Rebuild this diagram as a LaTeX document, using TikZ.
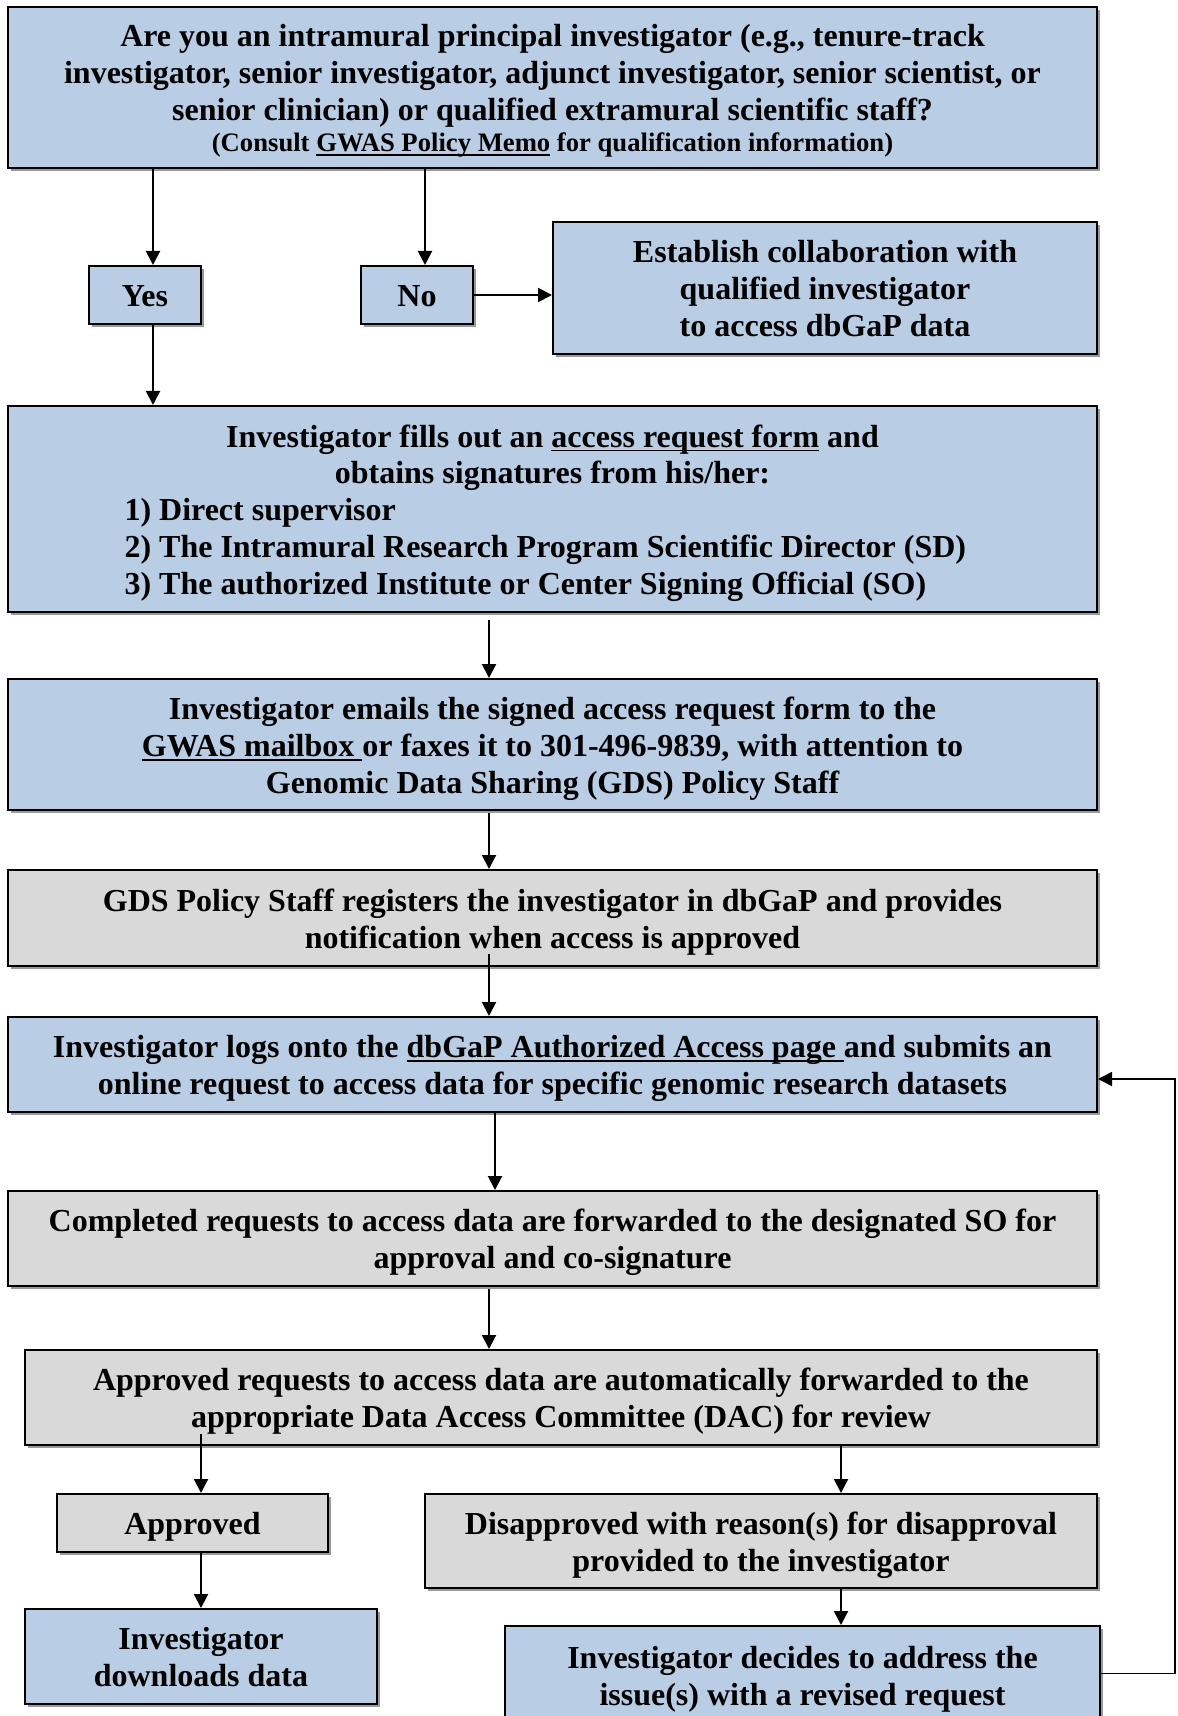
\documentclass[tikz,border=0pt]{standalone}
\usepackage{fontspec}
\setmainfont{Liberation Serif}
\usetikzlibrary{arrows.meta,shadows}
\definecolor{boxblue}{HTML}{B9CDE5}
\definecolor{boxgrey}{HTML}{D9D9D9}
\newcommand{\linkul}[1]{\setbox0\hbox{#1}\rlap{\rule[-2.2pt]{\wd0}{0.9pt}}\box0\relax}
\newcommand{\topstrut}{\rule{0pt}{15.7pt}}
\newcommand{\botstrut}{\rule[-4pt]{0pt}{4pt}}
\begin{document}
\begin{tikzpicture}[
			x=0.5pt, y=-0.5pt,
			>={Triangle[length=7pt,width=7pt]},
			line width=1pt,
			box/.style = {draw, line width=1pt, align=center, inner sep=2pt,
				font=\fontsize{16}{18.4}\selectfont\bfseries,
				drop shadow={shadow xshift=1.6pt, shadow yshift=-1.6pt, fill=black!40, opacity=1}},
			bluebox/.style = {box, fill=boxblue},
			greybox/.style = {box, fill=boxgrey}
		]
		\useasboundingbox (0,0) rectangle (1177,1716);
		\clip (0,0) rectangle (1177,1716);
		\node[bluebox, minimum width=544.5pt, minimum height=80.5pt] (q) at (552.5,87.5)
			{\topstrut Are you an intramural principal investigator (e.g., tenure-track\\
			investigator, senior investigator, adjunct investigator, senior scientist, or\\
			senior clinician) or qualified extramural scientific staff?\\[-2.6pt]
			{\fontsize{13.33}{17}\selectfont (Consult \linkul{GWAS Policy Memo} for qualification information)}\botstrut};
		\node[bluebox, minimum width=56pt, minimum height=29pt] (yes) at (145,295) {\topstrut Yes\botstrut};
		\node[bluebox, minimum width=56pt, minimum height=29pt] (no) at (417,295) {\topstrut No\botstrut};
		\node[bluebox, minimum width=272pt, minimum height=66pt] (est) at (825,288)
			{\topstrut Establish collaboration with\\ qualified investigator\\ to access dbGaP data\botstrut};
		\node[bluebox, minimum width=544.5pt, minimum height=103pt] (fills) at (552.5,509)
			{\topstrut Investigator fills out an \linkul{access request form} and\\
			obtains signatures from his/her:\\
			\parbox[t]{428pt}{1) Direct supervisor\\
				2) The Intramural Research Program Scientific Director (SD)\\
				3) The authorized Institute or Center Signing Official (SO)\botstrut}};
		\node[bluebox, minimum width=544.5pt, minimum height=65.5pt] (emails) at (552.5,744.5)
			{\topstrut Investigator emails the signed access request form to the\\
			\linkul{GWAS mailbox\ }or faxes it to 301-496-9839, with attention to\\
			Genomic Data Sharing (GDS) Policy Staff\botstrut};
		\node[greybox, minimum width=544.5pt, minimum height=48pt] (gds) at (552.5,918)
			{\topstrut GDS Policy Staff registers the investigator in dbGaP and provides\\
			notification when access is approved\botstrut};
		\node[bluebox, minimum width=544.5pt, minimum height=47.5pt] (logs) at (552.5,1064.5)
			{\topstrut Investigator logs onto the \linkul{dbGaP Authorized Access page\ }and submits an\\
			online request to access data for specific genomic research datasets\botstrut};
		\node[greybox, minimum width=544.5pt, minimum height=47.5pt] (completed) at (552.5,1238.5)
			{\topstrut Completed requests to access data are forwarded to the designated SO for\\
			approval and co-signature\botstrut};
		\node[greybox, minimum width=536pt, minimum height=47.5pt] (review) at (561,1397.5)
			{\topstrut Approved requests to access data are automatically forwarded to the\\
			appropriate Data Access Committee (DAC) for review\botstrut};
		\node[greybox, minimum width=135.5pt, minimum height=29pt] (approved) at (192.5,1523) {\topstrut Approved\botstrut};
		\node[greybox, minimum width=336pt, minimum height=47pt] (disapp) at (761,1541)
			{\topstrut Disapproved with reason(s) for disapproval\\ provided to the investigator\botstrut};
		\node[bluebox, minimum width=176pt, minimum height=47.5pt] (downloads) at (201,1656.5)
			{\topstrut Investigator\\ downloads data\botstrut};
		\node[bluebox, minimum width=297.5pt, minimum height=49.5pt] (decides) at (802.5,1675.5)
			{\topstrut Investigator decides to address the\\ issue(s) with a revised request\botstrut};
		\coordinate (back) at (1175,1079);
		\draw[->] ([xshift=4pt]yes.north |- q.south) -- ([xshift=4pt]yes.north);
		\draw[->] ([xshift=4pt]no.north |- q.south) -- ([xshift=4pt]no.north);
		\draw[->] ([xshift=4pt]yes.south) -- ([xshift=4pt]yes.south |- fills.north);
		\draw[->] (no.east) -- (no.east -| est.west);
		\draw[->] ([xshift=-31.75pt,yshift=-3.5pt]fills.south) -- ([xshift=-31.75pt]emails.north);
		\draw[->] ([xshift=-31.75pt,yshift=-1pt]emails.south) -- ([xshift=-31.75pt]gds.north);
		\draw[->] ([xshift=-31.75pt,yshift=6.5pt]gds.south) -- ([xshift=-31.75pt]logs.north);
		\draw[->] ([xshift=-28.75pt]logs.south) -- ([xshift=-28.75pt]completed.north);
		\draw[->] ([xshift=-31.75pt,yshift=-1pt]completed.south) -- ([xshift=-31.75pt]completed.south |- review.north);
		\draw[->] ([xshift=4.25pt,yshift=6pt]approved.north |- review.south) -- ([xshift=4.25pt]approved.north);
		\draw[->] (downloads.north |- approved.south) -- (downloads.north);
		\draw[->] ([xshift=40pt]disapp.north |- review.south) -- ([xshift=40pt]disapp.north);
		\draw[->] ([xshift=40pt]disapp.south) -- ([xshift=40pt]disapp.south |- decides.north);
		\draw[->, line width=0.8pt] ([yshift=1pt]decides.east) -| (back) -- (back -| logs.east);
	\end{tikzpicture}
\end{document}
